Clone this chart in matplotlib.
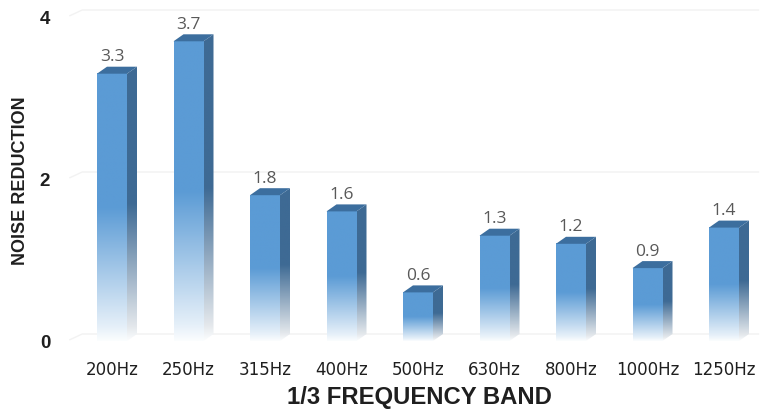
import numpy as np
import matplotlib
matplotlib.use("Agg")
import matplotlib.pyplot as plt
from matplotlib.patches import Polygon
from matplotlib.colors import LinearSegmentedColormap

bands = ["200Hz", "250Hz", "315Hz", "400Hz", "500Hz", "630Hz", "800Hz", "1000Hz", "1250Hz"]
noise_reduction = [3.3, 3.7, 1.8, 1.6, 0.6, 1.3, 1.2, 0.9, 1.4]
y_ticks = [0, 2, 4]

W, H = 760, 410
PX_Y = 81.0      # pixels per unit of value
PX_X = 76.5      # pixels per category
x0_px, y0_px = 112.0, 342.0

fig = plt.figure(figsize=(W / 100, H / 100), dpi=100, facecolor="white")
xlim = (-0.5, 8.45)
ylim = (-0.05, 4.2)
left = x0_px + xlim[0] * PX_X
right = x0_px + xlim[1] * PX_X
bottom = y0_px - ylim[0] * PX_Y
top = y0_px - ylim[1] * PX_Y
ax = fig.add_axes([left / W, 1 - bottom / H, (right - left) / W, (bottom - top) / H])
ax.set_xlim(*xlim)
ax.set_ylim(*ylim)
ax.patch.set_alpha(0)
for s in ax.spines.values():
    s.set_visible(False)

half = 15 / PX_X
dx = 10 / PX_X
dy = 7 / PX_Y

front = "#5B9BD5"
side = "#3E6A94"
top_c = "#3C6E9E"

def cmap_for(color, low):
    return LinearSegmentedColormap.from_list("f", [(0, "#FBFDFE"), (0.05, low), (0.5, color), (1, color)])

grad = np.linspace(0, 1, 256).reshape(-1, 1)

# back wall gridlines with the short diagonal at the left
for t in y_ticks:
    ax.plot([-0.55, -0.39, 8.45], [t + dy - 0.07, t + dy, t + dy],
            color="#F2F2F2", lw=1.0, zorder=1, clip_on=False)

for i, v in enumerate(noise_reduction):
    xl, xr = i - half, i + half
    ax.imshow(grad, cmap=cmap_for(front, "#E6F0F9"), origin="lower", aspect="auto", vmin=0, vmax=1,
              extent=(xl, xr, 0, v), zorder=3, interpolation="bilinear")
    im = ax.imshow(grad, cmap=cmap_for(side, "#E4E8EC"), origin="lower", aspect="auto", vmin=0, vmax=1,
                   extent=(xr, xr + dx, 0, v + dy), zorder=3, interpolation="bilinear")
    clip = Polygon([(xr, 0), (xr + dx, dy), (xr + dx, v + dy), (xr, v)], closed=True,
                   transform=ax.transData, fc="none", ec="none")
    ax.add_patch(clip)
    im.set_clip_path(clip)
    ax.add_patch(Polygon([(xl, v), (xl + dx, v + dy), (xr + dx, v + dy), (xr, v)],
                         closed=True, fc=top_c, ec="none", zorder=4))
    ax.text(i + 0.0, v + dy + 0.13, f"{v:.1f}", ha="center", va="center",
            fontsize=12.5, color="#595959", family="Open Sans", zorder=5)

ax.set_xlim(*xlim)
ax.set_ylim(*ylim)

ax.set_xticks(range(len(bands)))
ax.set_xticklabels(bands, fontsize=12, color="#1F1F1F", family="DejaVu Sans")
ax.set_yticks(y_ticks)
ax.set_yticklabels([str(t) for t in y_ticks], fontsize=13.5, fontweight="bold",
                   color="#1F1F1F", family="Liberation Sans")
ax.tick_params(axis="both", length=0)
ax.tick_params(axis="x", pad=11)
ax.tick_params(axis="y", pad=17)

fig.text(419 / W, 1 - 398 / H, "1/3 FREQUENCY BAND", ha="center", va="center",
         fontsize=17.2, fontweight="bold", color="#1F1F1F", family="Liberation Sans")
fig.text(21 / W, 1 - 181 / H, "NOISE REDUCTION", ha="center", va="center", rotation=90,
         fontsize=13, fontweight="bold", color="#1F1F1F", family="Liberation Sans")

fig.savefig("out.png", dpi=100)
